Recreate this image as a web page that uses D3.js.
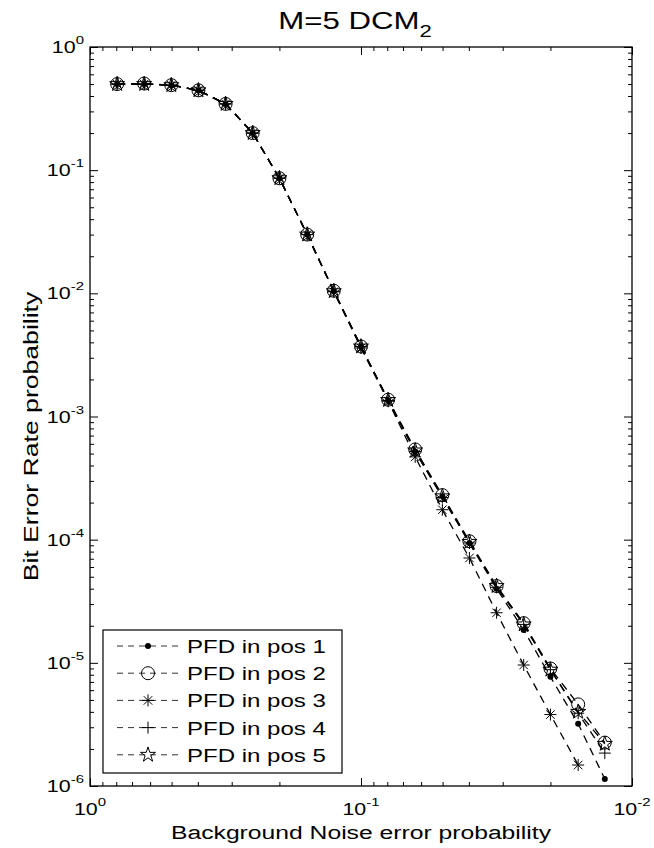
<!DOCTYPE html>
<html>
<head>
<meta charset="utf-8">
<script src="https://cdn.jsdelivr.net/npm/d3@7"></script>
<style>
  body { margin: 0; background: #fff; }
  svg { display: block; }
  text { font-family: "Liberation Sans", Arial, Helvetica, sans-serif; fill: #000; }
</style>
</head>
<body>
<div id="chart"></div>
<script>
// background noise error probability (x), one entry per simulated point
const noiseProb = [0.794, 0.631, 0.501, 0.398, 0.316, 0.251, 0.200, 0.158, 0.126, 0.100,
                   0.0794, 0.0631, 0.0501, 0.0398, 0.0316, 0.0251, 0.0200, 0.0158, 0.0126];

// bit error rate for each PFD position
const berPos1 = [0.50, 0.50, 0.49, 0.445, 0.345, 0.20, 0.086, 0.030, 0.0104, 0.0037,
                 0.00135, 5.2e-4, 2.25e-4, 9.4e-5, 4.0e-5, 1.85e-5, 7.7e-6, 3.2e-6, 1.14e-6];
const berPos2 = [0.50, 0.505, 0.49, 0.445, 0.345, 0.20, 0.086, 0.030, 0.0105, 0.0037,
                 0.00137, 5.4e-4, 2.3e-4, 9.7e-5, 4.2e-5, 2.1e-5, 9.0e-6, 4.6e-6, 2.25e-6];
const berPos3 = [0.50, 0.50, 0.49, 0.445, 0.345, 0.20, 0.086, 0.030, 0.0103, 0.0036,
                 0.00133, 4.7e-4, 1.75e-4, 7.1e-5, 2.55e-5, 9.6e-6, 3.8e-6, 1.48e-6];
const berPos4 = [0.50, 0.50, 0.49, 0.445, 0.345, 0.20, 0.086, 0.030, 0.0104, 0.0037,
                 0.00135, 5.2e-4, 2.2e-4, 9.4e-5, 4.1e-5, 2.05e-5, 8.8e-6, 3.9e-6, 1.85e-6];
const berPos5 = [0.50, 0.50, 0.49, 0.445, 0.345, 0.20, 0.086, 0.030, 0.0104, 0.0037,
                 0.00136, 5.3e-4, 2.25e-4, 9.6e-5, 4.2e-5, 2.05e-5, 8.8e-6, 4.0e-6, 2.2e-6];

const seriesNames = ['PFD in pos 1', 'PFD in pos 2', 'PFD in pos 3', 'PFD in pos 4', 'PFD in pos 5'];
const markerTypes = ['dot', 'circle', 'asterisk', 'plus', 'star'];

const xTickExps = [0, -1, -2];
const yTickExps = [0, -1, -2, -3, -4, -5, -6];

const W = 654, H = 848;
const plot = { left: 90, right: 632, top: 47, bottom: 786 };
const stretch = 1.3; // the exported figure is wider than its fonts

const svg = d3.select('#chart').append('svg')
    .attr('width', W)
    .attr('height', H);

const x = d3.scaleLog().domain([1, 0.01]).range([plot.left, plot.right]);
const y = d3.scaleLog().domain([1, 1e-6]).range([plot.top, plot.bottom]);

// minor tick values 2..9 per decade
function minorTicks(lo, hi) {
    const out = [];
    for (let e = lo; e < hi; e++) {
        for (let m = 2; m <= 9; m++) out.push(m * Math.pow(10, e));
    }
    return out;
}
const xMajor = xTickExps.map(e => Math.pow(10, e));
const yMajor = yTickExps.map(e => Math.pow(10, e));
const xMinor = minorTicks(-2, 0);
const yMinor = minorTicks(-6, 0);

function addAxis(axisFn, scale, values, size, transform) {
    svg.append('g')
        .attr('transform', transform)
        .call(axisFn(scale).tickValues(values).tickSize(-size).tickFormat(''))
        .call(g => g.select('.domain').remove())
        .call(g => g.selectAll('line').attr('stroke', '#000').attr('stroke-width', 1));
}

addAxis(d3.axisBottom, x, xMajor, 8, `translate(0,${plot.bottom})`);
addAxis(d3.axisBottom, x, xMinor, 4, `translate(0,${plot.bottom})`);
addAxis(d3.axisTop, x, xMajor, 8, `translate(0,${plot.top})`);
addAxis(d3.axisTop, x, xMinor, 4, `translate(0,${plot.top})`);
addAxis(d3.axisLeft, y, yMajor, 8, `translate(${plot.left},0)`);
addAxis(d3.axisLeft, y, yMinor, 4, `translate(${plot.left},0)`);
addAxis(d3.axisRight, y, yMajor, 8, `translate(${plot.right},0)`);
addAxis(d3.axisRight, y, yMinor, 4, `translate(${plot.right},0)`);

svg.append('rect')
    .attr('x', plot.left).attr('y', plot.top)
    .attr('width', plot.right - plot.left)
    .attr('height', plot.bottom - plot.top)
    .attr('fill', 'none')
    .attr('stroke', '#000')
    .attr('stroke-width', 1.3);

// text helper: horizontally stretched text like the exported figure
function label(px, py, anchor, size, rotate) {
    const g = svg.append('g')
        .attr('transform', `translate(${px},${py}) scale(${stretch},1)` + (rotate ? ` rotate(${rotate})` : ''));
    return g.append('text')
        .attr('text-anchor', anchor)
        .style('font-size', size + 'px');
}

// tick labels 10^n
xTickExps.forEach(e => {
    const t = label(x(Math.pow(10, e)), 815, 'middle', 16.5);
    t.append('tspan').text('10');
    t.append('tspan').attr('dy', -9).style('font-size', '11.5px').text(e);
});
yTickExps.forEach(e => {
    const t = label(84, y(Math.pow(10, e)) + 6, 'end', 16.5);
    t.append('tspan').text('10');
    t.append('tspan').attr('dy', -9).style('font-size', '11.5px').text(e);
});

// title and axis labels
const title = label((plot.left + plot.right) / 2 - 6, 29, 'middle', 24);
title.append('tspan').text('M=5 DCM');
title.append('tspan').attr('dy', 8).style('font-size', '17px').text('2');

label((plot.left + plot.right) / 2, 839, 'middle', 19).text('Background Noise error probability');

// y label: stretched along its length, like the figure's vertical text
svg.append('g')
    .attr('transform', `translate(38,${(plot.top + plot.bottom) / 2 + 20}) rotate(-90) scale(1.4,1.05)`)
    .append('text')
    .attr('text-anchor', 'middle')
    .style('font-size', '19px')
    .text('Bit Error Rate probability');

// markers
const symStar = d3.symbol().type(d3.symbolStar).size(70);
function drawMarker(g, type, cx, cy) {
    if (type === 'dot') {
        g.append('circle').attr('cx', cx).attr('cy', cy).attr('r', 3).attr('fill', '#000');
    } else if (type === 'circle') {
        g.append('circle').attr('cx', cx).attr('cy', cy).attr('r', 6.5)
            .attr('fill', 'none').attr('stroke', '#000').attr('stroke-width', 1);
    } else if (type === 'plus') {
        g.append('path').attr('d', `M${cx - 6},${cy}H${cx + 6}M${cx},${cy - 6}V${cy + 6}`)
            .attr('stroke', '#000').attr('stroke-width', 1);
    } else if (type === 'asterisk') {
        const r = 6, d = r * 0.707;
        g.append('path')
            .attr('d', `M${cx - r},${cy}H${cx + r}M${cx},${cy - r}V${cy + r}` +
                `M${cx - d},${cy - d}L${cx + d},${cy + d}M${cx - d},${cy + d}L${cx + d},${cy - d}`)
            .attr('stroke', '#000').attr('stroke-width', 1);
    } else if (type === 'star') {
        g.append('path').attr('d', symStar()).attr('transform', `translate(${cx},${cy})`)
            .attr('fill', 'none').attr('stroke', '#000').attr('stroke-width', 1);
    }
}

const allSeries = [berPos1, berPos2, berPos3, berPos4, berPos5];
const line = d3.line().x(d => x(d[0])).y(d => y(d[1]));

const plotG = svg.append('g');
allSeries.forEach((ber, i) => {
    const pts = ber.map((v, j) => [noiseProb[j], v]);
    plotG.append('path')
        .datum(pts)
        .attr('d', line)
        .attr('fill', 'none')
        .attr('stroke', '#000')
        .attr('stroke-width', 1.3)
        .attr('stroke-dasharray', '8,6');
    pts.forEach(p => drawMarker(plotG, markerTypes[i], x(p[0]), y(p[1])));
});

// legend
const legend = { x: 103, y: 630, w: 239, h: 143, row: 27.2 };
svg.append('rect')
    .attr('x', legend.x).attr('y', legend.y)
    .attr('width', legend.w).attr('height', legend.h)
    .attr('fill', '#fff').attr('stroke', '#000').attr('stroke-width', 1.2);

seriesNames.forEach((name, i) => {
    const cy = legend.y + 16 + i * legend.row;
    svg.append('line')
        .attr('x1', legend.x + 14).attr('x2', legend.x + 77)
        .attr('y1', cy).attr('y2', cy)
        .attr('stroke', '#333').attr('stroke-width', 1)
        .attr('stroke-dasharray', '6,5');
    drawMarker(svg, markerTypes[i], legend.x + 45, cy);
    label(legend.x + 84, cy + 7, 'start', 18.5).text(name);
});
</script>
</body>
</html>
